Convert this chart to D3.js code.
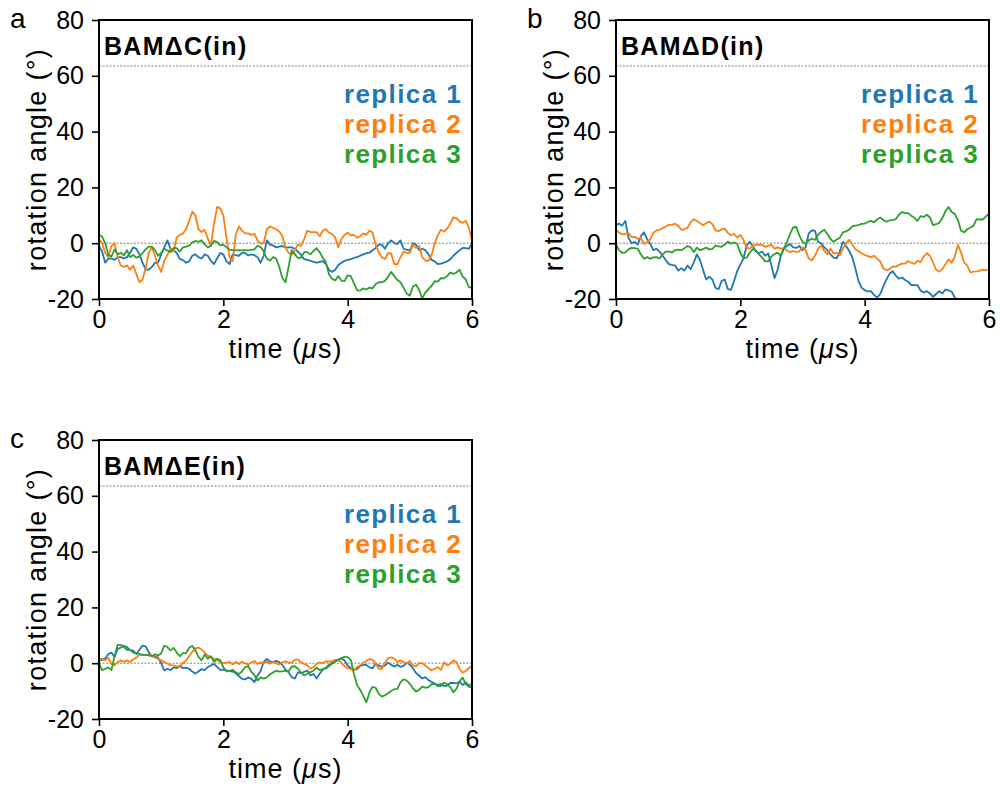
<!DOCTYPE html>
<html>
<head>
<meta charset="utf-8">
<script src="https://cdn.jsdelivr.net/npm/d3@7"></script>
<style>
  body { margin: 0; background: #fff; }
  svg { display: block; }
  text { font-family: "Liberation Sans", Arial, Helvetica, sans-serif; }
</style>
</head>
<body>
<svg id="chart" width="1000" height="791"></svg>
<script>
const times = [0, 0.05, 0.1, 0.15, 0.2, 0.25, 0.3, 0.35, 0.4, 0.45, 0.5, 0.55, 0.6, 0.65, 0.7, 0.75, 0.8, 0.85, 0.9, 0.95,
  1, 1.05, 1.1, 1.15, 1.2, 1.25, 1.3, 1.35, 1.4, 1.45, 1.5, 1.55, 1.6, 1.65, 1.7, 1.75, 1.8, 1.85, 1.9, 1.95,
  2, 2.05, 2.1, 2.15, 2.2, 2.25, 2.3, 2.35, 2.4, 2.45, 2.5, 2.55, 2.6, 2.65, 2.7, 2.75, 2.8, 2.85, 2.9, 2.95,
  3, 3.05, 3.1, 3.15, 3.2, 3.25, 3.3, 3.35, 3.4, 3.45, 3.5, 3.55, 3.6, 3.65, 3.7, 3.75, 3.8, 3.85, 3.9, 3.95,
  4, 4.05, 4.1, 4.15, 4.2, 4.25, 4.3, 4.35, 4.4, 4.45, 4.5, 4.55, 4.6, 4.65, 4.7, 4.75, 4.8, 4.85, 4.9, 4.95,
  5, 5.05, 5.1, 5.15, 5.2, 5.25, 5.3, 5.35, 5.4, 5.45, 5.5, 5.55, 5.6, 5.65, 5.7, 5.75, 5.8, 5.85, 5.9, 5.95,
  6]

// panel a, BAMΔC(in)
const aRep1 = [-1, -3, -7, -5.5, -5.5, -6, -5, -5, -5.5, -5, -3.5, -1.5, -2, -4, -7, -9.5, -9.5, -8.5, -7, -7,
  -4, -1.5, 1, -2, -2.5, -3.5, -5.7, -6, -7, -6.5, -4.5, -4, -5, -5.5, -4, -4.5, -6.3, -7.5, -5.5, -3.5,
  -4, -6.5, -7.5, -4, -4.3, -4.5, -3.5, -3.5, -4.4, -4, -4.3, -5, -7, -4.5, 1, -0.5, -0.8, -1.5, -1.2, -1,
  -1.5, -1.5, -1.5, -2, -3, -4.2, -5.7, -6, -6.3, -6.7, -7, -6.7, -6.4, -7.5, -9.5, -10.3, -9.5, -7.8, -7, -6.3,
  -6, -5.7, -5.3, -5, -4.5, -4, -3.6, -3.4, -2.5, -1.7, -0.5, -0.5, -2, 0, 1, 0, -0.3, 1, -2, -2.3,
  -2.7, 0, -0.5, -2.5, -2, -2.5, -4, -6, -6.5, -7.5, -7.3, -7, -6.5, -5.8, -4.5, -3.5, -2.5, -1.7, -1.8, -2,
  0]
const aRep2 = [1.5, 0, -3.5, -5, -1, 0, -5, -8, -8.5, -8, -9.5, -8, -11, -14, -13, -9, -3.5, -1.5, -4.5, -8,
  -10.3, -6.3, -4.2, -2, -3, 2, 3, 3.5, 5, 8, 11.3, 10, 5, 4, 4.8, 1.7, -1, 7, 13, 12.5,
  10, 2, -5, -6.5, 3, 6, 4.5, 3.5, 3.5, 3, 3.3, 1, -0.2, 0, 5, 6, 5.5, 5, 4.2, 2.5,
  -1.5, -3.5, -4, -2.5, -0.5, -1, 1.5, 4.5, 4, 4, 4, 2.5, 4.5, 5, 3.8, 3.3, 2, -1.5, 1.5, 3,
  3.8, 2.8, 3, 2, 2.5, 3.5, 3, 4.5, 3.8, -0.5, -3.3, -5, -5.7, -3.5, -3.7, -7.5, -7.5, -5, -3, -3.5,
  -3.5, -0.5, -1.7, -1, -5, -6.3, -6.3, -4.2, 0, 2.8, 4.8, 4.2, 5.2, 7, 9.3, 9, 7.8, 7.3, 8, 5.5,
  1]
const aRep3 = [3, 2.3, 0, -4.2, -4.8, -2.2, -4, -3.4, -4.3, -2.5, -5, -4.2, -5.2, -4.8, -3.5, -2.2, -1.2, -1.2, -2.5, -4.5,
  -3.5, -2, -2.6, -3.2, -1.7, -1.8, -3, -1.5, -1.2, -0.9, 0.3, 0.8, 0.5, 1, -0.4, -1.5, -0.9, 0.8, 0.4, -0.8,
  -0.5, -1.5, -2.3, -2.5, -2.6, -2.5, -2.6, -2.5, -2.6, -2.4, -2.2, -0.9, -1.4, -3, -5.5, -6.3, -5, -5.5, -8.5, -12.5,
  -14, -8.5, -2.5, -4, -5.3, -5.2, -3.2, -3.2, -4, -2.8, -1.8, -3.2, -5.2, -6.8, -11.2, -12.8, -13.3, -11.8, -13.5, -13.6,
  -11.5, -11.8, -14.3, -16.8, -17, -16.2, -16.6, -15.9, -16.2, -14.6, -14, -14, -13.5, -12, -10.3, -11.8, -13.2, -14, -16, -18,
  -18.8, -15.5, -14.9, -16.8, -19.8, -17.6, -16.5, -15.3, -13.6, -13.8, -12.5, -12.6, -11.8, -10.5, -11, -10.5, -9.5, -12, -13, -15.8,
  -15.8]

// panel b, BAMΔD(in)
const bRep1 = [6.5, 7, 6.3, 8, 2, 0, 0.5, -0.5, 2.5, 3.9, 1.5, -0.2, -2.5, -2, -3, -4.5, -6, -7.5, -7.8, -8,
  -9.8, -9, -9.8, -8, -9.3, -7, -4, -6, -9.5, -13, -12, -13, -16, -16.5, -13.5, -13, -16.5, -16.7, -13.5, -10,
  -7.7, -5.5, -1, 0.5, -1, -3, -3.5, -3, -4.5, -3.7, -8, -12.5, -9.5, -4.5, -1.7, -1, -0.3, -1.5, -1.7, -1,
  -2.5, -1.5, 3.5, 4.6, 4.5, 0.5, 0, -1.5, -2.5, -4, -5.2, -5.4, -3, 0.5, -1, -2.7, -5, -9, -13.5, -16,
  -16.8, -17.3, -17.2, -18.5, -19.5, -18.2, -15.5, -13, -11, -10, -11.6, -12.7, -12.3, -13.2, -13.8, -15, -15, -15, -17, -17.7,
  -17.2, -18, -19.2, -18.2, -17.2, -18, -16.6, -16.9, -17.4, -19.5, -21, -22, -23, -23.5, -24, -24, -24, -24.5, -25, -25,
  -25]
const bRep2 = [4.8, 3.8, 3.2, 3.3, 3.6, 2.2, 2.3, 1.5, 1.9, -0.3, 0.3, 1.4, 3.7, 4.6, 4.8, 5.4, 6, 6.6, 6.6, 7,
  6.3, 4.8, 5, 5.5, 7.5, 8.6, 8, 7.2, 6.4, 7.2, 7.8, 6.8, 4.6, 4.3, 5, 5.2, 3.7, 2.9, 3.3, 2,
  3, 1.2, -1.5, -2, -0.8, -0.6, -0.5, -0.6, -1.3, -0.9, -0.5, -2, -1.5, -2, -1.7, -2.6, -3.2, -2.8, -3.1, -2.9,
  -1.5, -2.5, -5.5, -6.2, -4.5, -2, -0.8, -2.8, -3.9, -2, -3.7, -3.4, -4.3, -2, 0, 1.2, -0.5, -2.2, -2.9, -3.6,
  -4.2, -4.6, -5, -4.5, -5.5, -6.5, -9, -9.7, -9.3, -8.3, -8.4, -7.8, -7.3, -7.3, -6.4, -7, -7.4, -6.3, -6.8, -4.8,
  -3.6, -4.5, -7, -9.5, -10.2, -9.3, -7.5, -5.8, -7, -4.8, -0.6, -3.3, -6.9, -8, -10.5, -10.2, -10.1, -9.8, -9.5, -9.7,
  -9.3]
const bRep3 = [-0.5, -2.5, -3.5, -3.3, -2.2, -1.7, -1.8, -2, -4, -5.6, -5, -5.6, -5.1, -5, -5.5, -4, -3, -3, -3.3, -2.5,
  -2.3, -2.5, -1.8, -1, -1.5, -3.2, -1.6, -2.5, -2.1, -1.6, -2.2, -2, -0.9, -1.1, -1.3, -0.5, 0.6, -0.2, 0.3, -0.3,
  -3.5, -5.3, -5.2, -3.5, -2.1, -2.6, -4, -5.2, -6.5, -6.5, -4.8, -3.8, -3.4, -4.5, -2, 0.5, 3.3, 5.7, 5.8, 2.7,
  0.5, -0.3, 1, 1.6, 1.2, 3, 4.1, 4.8, 3.3, 1.5, 0.5, 1.3, 1.9, 3.9, 4.2, 4.9, 6, 6.3, 6.5, 6.9,
  7, 7.6, 8, 7.5, 8.5, 9.2, 8.3, 7.7, 8.2, 8.3, 8.6, 10.2, 11.2, 10.8, 10.8, 9.8, 9.1, 8, 9.7, 9.4,
  10.2, 9.2, 6.5, 6.8, 7.3, 9, 11.5, 13, 11.2, 10.5, 8.3, 4.5, 3.9, 5, 5.6, 6.2, 8.6, 8.5, 8.5, 9.6,
  10.5]

// panel c, BAMΔE(in)
const cRep1 = [1, 1.2, 1.8, 3.3, 3.8, 2.2, 5.1, 5.6, 6.2, 5.8, 4.7, 4.5, 3.3, 4.8, 6.3, 6, 4, 2.5, 2.4, 2,
  0, -2.6, -2, -2.5, -1.5, -1.8, -1, -1.8, -1.6, -2, -3, -3.7, -3, -2.1, -2.5, -1.4, -0.8, -0.3, -1.3, -2.4,
  -2.3, -2.6, -2.8, -3, -3.6, -4.6, -5.6, -5.8, -5.1, -5.6, -6.8, -4.4, -2.8, 0.5, 1.5, 0.6, 0.4, 0.8, 0.4, -0.6,
  -2.3, -3.3, -5, -5.5, -3.3, -3.6, -3.1, -2.6, -4.4, -3.9, -5.5, -3.8, -2.3, -1.8, -1, -0.1, 0.6, 1.2, 1.8, 1,
  -0.8, -1.8, -2.4, -2.1, -1, -0.6, -0.6, -1.5, -1.8, -0.2, -0.8, -1.3, -0.9, 0.2, -0.6, -1.2, -0.6, -1.3, -1, 0.2,
  -0.5, -1.8, -3.5, -4.5, -5.5, -5, -6.1, -6.7, -7.3, -7.8, -7.5, -8.2, -8, -7.1, -7.1, -7.2, -6.6, -7.8, -6.9, -8,
  -7.4]
const cRep2 = [1.5, 1.5, 1, 2, -0.3, -0.8, 0.4, 1, 0.5, 1, 0.5, 1.4, 2, 3, 3, 3, 3.2, 2.6, 2, 1.5,
  1, 0.4, -0.2, -0.7, -0.8, -1.2, -1, 0, 1, 2.5, 4, 5.3, 5.6, 5, 3.8, 2.7, 2.2, 1.6, 1.1, 0.5,
  0, 0.2, 0.5, -0.5, 0.5, -0.3, 0.5, 0, -0.5, 0.3, 0.8, -0.3, 0.3, 0, 0.6, -0.2, 0.4, 0, -0.5, 0.3,
  0.7, 0.2, 0.2, 1.2, 1.4, 0.3, -0.3, -0.8, -2, -1.4, -0.3, 0.3, 0, 0.7, 0.6, 0.7, 1.2, 1.2, 0, -1,
  -1.8, -2.1, -2.6, -1.4, -0.7, 0.2, 0.9, 1.5, 1.2, 0, -2, -2, 0.2, 1.8, 2.1, 1.6, 0.4, 1, 0.4, -0.1,
  0.8, -0.8, -1.1, 0, 0, -0.8, -1.8, -2.5, -2, -1.4, -2.4, 0.3, -0.8, -0.2, 0.9, 0.5, -2, -3.4, -2.8, -1.8,
  -0.8]
const cRep3 = [0, -2.5, -2, -1.5, -2.5, 2.5, 6.6, 6.6, 5.8, 4.8, 4.8, 3.8, 3.6, 3.3, 3, 3, 2.8, 2.5, 3.2, 2.8,
  3.5, 6.3, 5.8, 4.6, 5.5, 3.8, 2.5, 3.6, 3.6, 5.5, 6.2, 4.7, 2.3, 1, 3.1, 1.6, 2.5, 0.5, 1.6, 1.1,
  -1.5, -2.9, -2.8, -2.3, -3.3, -3.9, -3, -1.4, -1, -3.1, -4.3, -6.2, -5.1, -5.5, -5.1, -4, -3.3, -2.7, -3, -2.9,
  -2.7, -3, -1.2, -1.1, -2, -3.3, -4.4, -3.8, -3.2, -2.7, -1.6, -2.4, -2.2, -1.6, -0.5, 0.1, 0.6, 1.3, 1.8, 2.3,
  2.2, 1.2, -3.8, -7.8, -9.5, -11.6, -14, -10.5, -8.5, -8.8, -11, -12, -11.5, -10.8, -10, -9.3, -9.2, -6.8, -5.8, -6.2,
  -7.4, -9, -10.2, -9.5, -8.4, -8.8, -8.6, -7.5, -7.4, -8.2, -8.2, -7, -7.6, -8.5, -10.4, -9.2, -6.5, -5.2, -7.5, -8.5,
  -8.6]

const replicaNames = ["replica 1", "replica 2", "replica 3"]
const replicaColors = ["#1f77b4", "#ff7f0e", "#2ca02c"]
const xTicks = [0, 2, 4, 6]
const yTicks = [-20, 0, 20, 40, 60, 80]
const refAngles = [0, 63.5]

const panels = [
  { letter: "a", title: "BAMΔC(in)", series: [aRep1, aRep2, aRep3], x0: 99, y0: 20 },
  { letter: "b", title: "BAMΔD(in)", series: [bRep1, bRep2, bRep3], x0: 616, y0: 20 },
  { letter: "c", title: "BAMΔE(in)", series: [cRep1, cRep2, cRep3], x0: 99, y0: 440 }
]

const svg = d3.select("#chart")
const W = 373, H = 279

function drawPanel (p, idx) {
  const g = svg.append("g").attr("transform", `translate(${p.x0},${p.y0})`)
  const x = d3.scaleLinear().domain([0, 6]).range([0, W])
  const y = d3.scaleLinear().domain([-20, 80]).range([H, 0])

  g.append("clipPath").attr("id", "clip" + idx)
    .append("rect").attr("width", W).attr("height", H)

  g.selectAll(".ref").data(refAngles).enter().append("line")
    .attr("x1", 0).attr("x2", W)
    .attr("y1", d => y(d)).attr("y2", d => y(d))
    .attr("stroke", "#606060").attr("stroke-width", 0.8)
    .attr("stroke-dasharray", "2,1.5")

  const line = d3.line().x((d, i) => x(times[i])).y(d => y(d))
  g.append("g").attr("clip-path", `url(#clip${idx})`)
    .selectAll("path").data(p.series).enter().append("path")
    .attr("d", line)
    .attr("fill", "none")
    .attr("stroke", (d, i) => replicaColors[i])
    .attr("stroke-width", 1.8)
    .attr("stroke-linejoin", "round")

  const yAxis = g.append("g")
    .call(d3.axisLeft(y).tickValues(yTicks).tickSize(7).tickPadding(8).tickFormat(d => String(d)))
  const xAxis = g.append("g").attr("transform", `translate(0,${H})`)
    .call(d3.axisBottom(x).tickValues(xTicks).tickSize(7).tickPadding(4).tickFormat(d => String(d)))
  for (const ax of [yAxis, xAxis]) {
    ax.select(".domain").remove()
    ax.selectAll(".tick line").attr("stroke", "#000").attr("stroke-width", 1.6)
    ax.selectAll(".tick text").attr("font-size", 25).attr("fill", "#000")
      .style("font-family", "'Liberation Sans', Arial, sans-serif")
  }

  g.append("rect").attr("width", W).attr("height", H)
    .attr("fill", "none").attr("stroke", "#000").attr("stroke-width", 2)

  g.append("text").attr("x", 5).attr("y", 35)
    .attr("font-size", 25).attr("font-weight", "bold")
    .attr("letter-spacing", 1.3)
    .text(p.title)

  g.selectAll(".legend").data(replicaNames).enter().append("text")
    .attr("x", W - 10).attr("y", (d, i) => 83 + i * 30)
    .attr("text-anchor", "end")
    .attr("font-size", 26).attr("font-weight", "bold")
    .attr("letter-spacing", 1.4)
    .attr("fill", (d, i) => replicaColors[i])
    .text(d => d)

  g.append("text").attr("x", -89).attr("y", 8)
    .attr("font-size", 28)
    .text(p.letter)

  g.append("text")
    .attr("transform", `translate(-53,${H / 2}) rotate(-90)`)
    .attr("text-anchor", "middle")
    .attr("font-size", 27)
    .attr("letter-spacing", 1.3)
    .text("rotation angle (°)")

  const xl = g.append("text").attr("x", W / 2).attr("y", H + 59)
    .attr("text-anchor", "middle")
    .attr("font-size", 27)
    .attr("letter-spacing", 1)
  xl.append("tspan").text("time (")
  xl.append("tspan").attr("font-style", "italic").text("μ")
  xl.append("tspan").text("s)")
}

panels.forEach(drawPanel)
</script>
</body>
</html>
